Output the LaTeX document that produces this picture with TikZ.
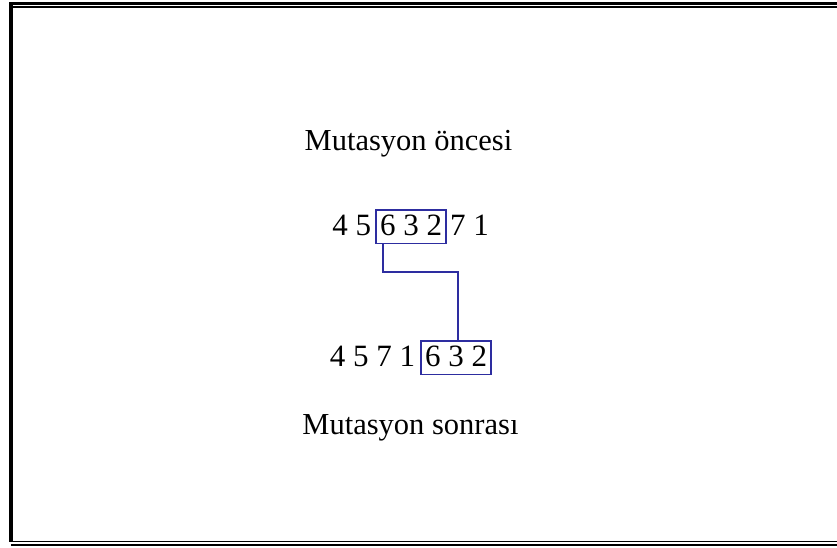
\documentclass[tikz,border=0pt]{standalone}
\usepackage{fontspec}
\setmainfont{Liberation Serif}
\begin{document}
\begin{tikzpicture}[x=1pt,y=1pt,
  lbl/.style={font=\fontsize{30.5}{36}\selectfont, inner sep=0pt},
  digits/.style={font=\fontsize{31}{36}\selectfont, inner sep=0pt},
  blk/.style={draw=blueline, line width=1.6pt, minimum width=70pt, text height=26pt, text depth=7.5pt, inner sep=0pt, font=\fontsize{31}{36}\selectfont},
  link/.style={draw=blueline, line width=1.8pt},
  frame/.style={draw=black}]
\definecolor{blueline}{RGB}{45,45,160}
\useasboundingbox[fill=white] (0,0) rectangle (837,548);
% frame
\draw[frame, line width=2.6pt] (9,544.5) -- (837,544.5);
\draw[frame, line width=1.3pt] (13,541) -- (837,541);
\draw[frame, line width=3.4pt] (11,545.8) -- (11,6);
\draw[frame, line width=1.3pt] (13,6.5) -- (837,6.5);
\draw[frame, line width=2.6pt] (11,3) -- (837,3);
% titles
\node[lbl, anchor=base] (pre) at (408.5,397) {Mutasyon öncesi};
\node[lbl, anchor=base] (post) at (410.5,113) {Mutasyon sonrası};
% row 1
\node[blk, anchor=base] (b1) at (411,312) {6 3 2};
\node[digits, anchor=base east] (a1) at ([xshift=-4pt]b1.west |- 0,312) {4 5};
\node[digits, anchor=base west] (c1) at ([xshift=3pt]b1.east |- 0,312) {7 1};
% row 2
\node[blk, anchor=base] (b2) at (456,181) {6 3 2};
\node[digits, anchor=base east] (a2) at ([xshift=-5pt]b2.west |- 0,181) {4 5 7 1};
% connector
\coordinate (k1) at ([xshift=8pt]b1.south west);
\coordinate (k2) at ([xshift=2pt]b2.north);
\draw[link] (k1) -- (k1 |- 0,276) -- (k2 |- 0,276) -- (k2);
\end{tikzpicture}
\end{document}
